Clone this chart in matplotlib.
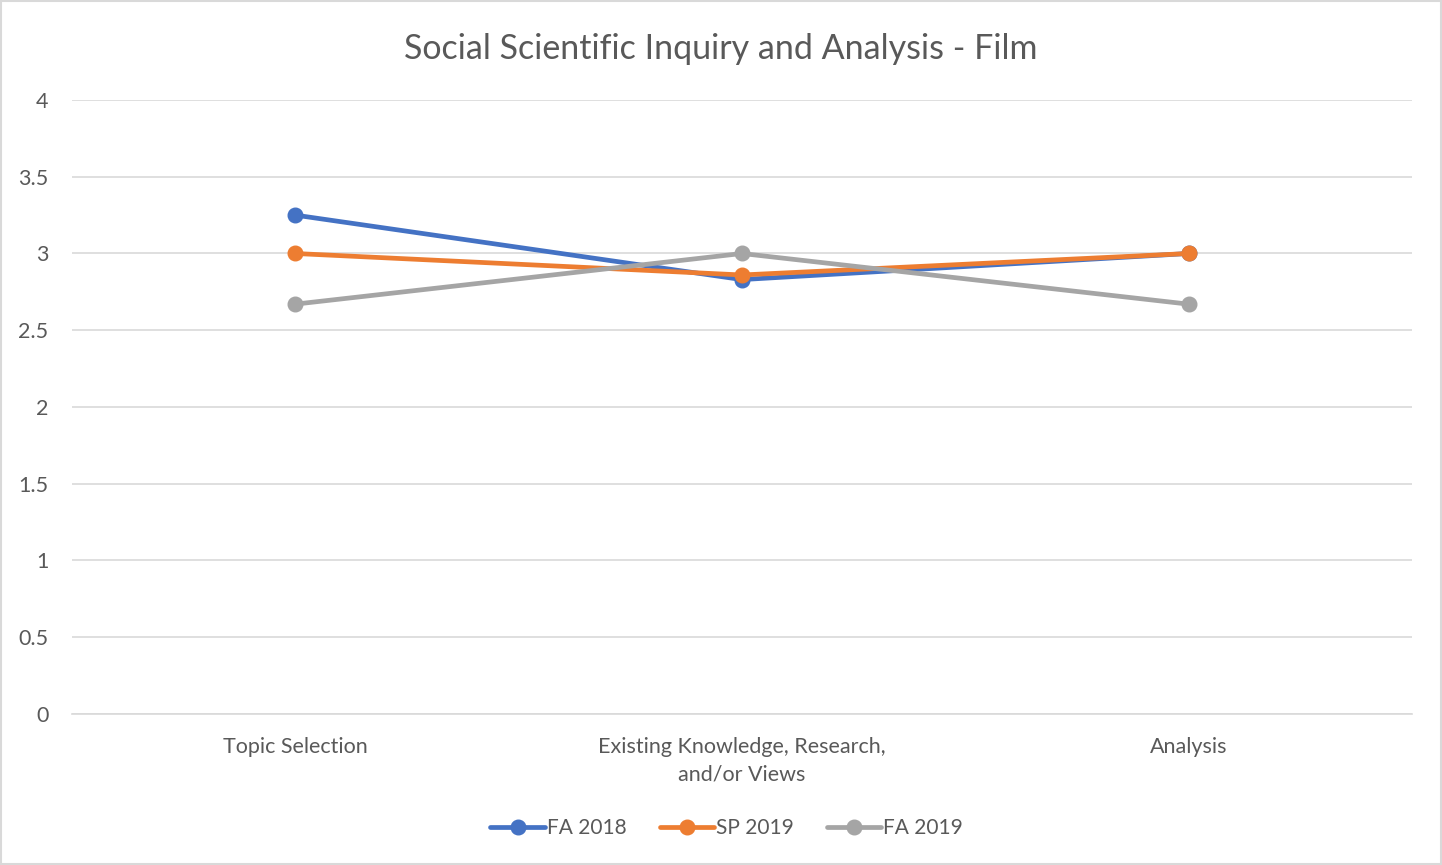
import matplotlib.pyplot as plt
import numpy as np

categories = ["Topic Selection", "Existing Knowledge, Research,\nand/or Views", "Analysis"]
fa2018 = [3.25, 2.83, 3.0]
sp2019 = [3.0, 2.86, 3.0]
fa2019 = [2.67, 3.0, 2.67]
series = [("FA 2018", fa2018, "#4472C4"),
          ("SP 2019", sp2019, "#ED7D31"),
          ("FA 2019", fa2019, "#A5A5A5")]

plt.rcParams['font.family'] = ['Lato', 'DejaVu Sans']
txt = "#595959"

fig = plt.figure(figsize=(14.42, 8.65), dpi=100)
ax = fig.add_axes([0.0499, 0.1746, 0.9292, 0.7098])
x = np.arange(len(categories))
for name, vals, col in series:
    ax.plot(x, vals, color=col, lw=3.4, marker='o', ms=10.5, label=name,
            solid_capstyle='round')

ax.set_xlim(-0.5, 2.5)
ax.set_ylim(0, 4)
ax.set_yticks(np.arange(0, 4.01, 0.5))
ax.set_yticklabels(["0", "0.5", "1", "1.5", "2", "2.5", "3", "3.5", "4"])
ax.set_xticks(x)
ax.set_xticklabels(categories, color=txt, fontsize=15.5, linespacing=1.45)
ax.tick_params(axis='y', colors=txt, labelsize=15.5, length=0, pad=17)
ax.tick_params(axis='x', length=0, pad=16.5)
ax.grid(axis='y', color='#d9d9d9', lw=1.2)
ax.set_axisbelow(True)
for s in ['top', 'right', 'left']:
    ax.spines[s].set_visible(False)
ax.spines['bottom'].set_color('#d9d9d9')
ax.spines['bottom'].set_linewidth(1.2)

fig.suptitle("Social Scientific Inquiry and Analysis - Film", x=0.5, y=0.962,
             fontsize=24.5, color=txt)
fig.legend(loc='center', bbox_to_anchor=(0.504, 0.043), ncol=3, frameon=False,
           fontsize=15, labelcolor=txt, handlelength=2.6, handletextpad=0.1,
           columnspacing=1.6)

fig.patches.append(plt.Rectangle((0.001, 0.001), 0.998, 0.998, transform=fig.transFigure,
                                 fill=False, edgecolor='#d9d9d9', lw=1.5))
fig.savefig('out.png', dpi=100)
